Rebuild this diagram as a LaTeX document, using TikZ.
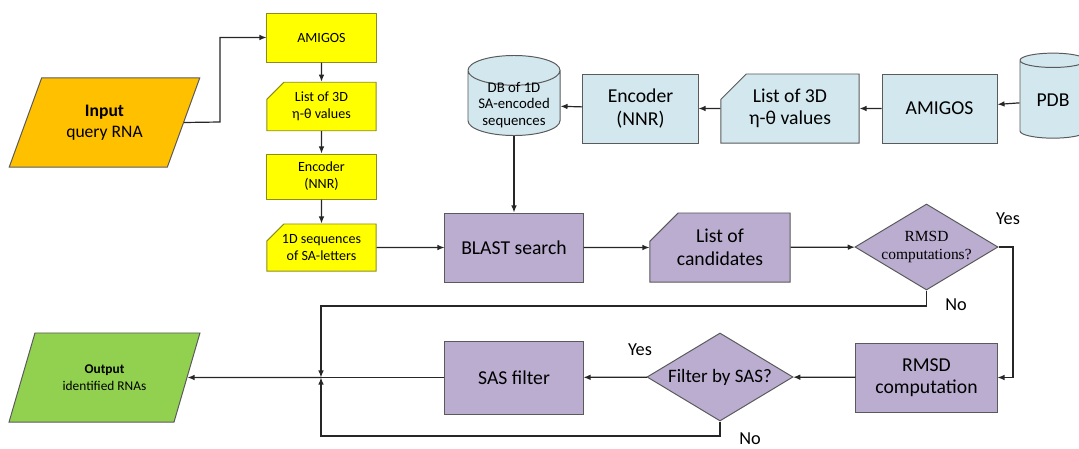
\documentclass[tikz,border=0pt]{standalone}
\usepackage{fontspec}
\setmainfont{Carlito}
\newfontfamily\serifq{Liberation Serif}
\usetikzlibrary{shapes.geometric, shapes.misc, arrows.meta}

\definecolor{yellowfill}{HTML}{FFFF00}
\definecolor{yellowline}{HTML}{8C8C1E}
\definecolor{inputfill}{HTML}{FFC000}
\definecolor{outputfill}{HTML}{92D050}
\definecolor{bluefill}{HTML}{D2E7EE}
\definecolor{purplefill}{HTML}{BAADD0}
\definecolor{boxline}{HTML}{5A5A5A}
\definecolor{flowline}{HTML}{262626}

\begin{document}
\begin{tikzpicture}
		[x=0.025cm,y=-0.025cm,
		%Styles
		box/.style={draw=boxline,line width=0.7pt,align=center,inner sep=1pt},
		yellow box/.style={box,fill=yellowfill,draw=yellowline,minimum width=2.725cm,font=\fontsize{10}{12}\selectfont},
		blue box/.style={box,fill=bluefill,font=\fontsize{14}{16}\selectfont},
		purple box/.style={box,fill=purplefill,font=\fontsize{14}{16}\selectfont},
		card/.style={chamfered rectangle,chamfered rectangle corners=north west,chamfered rectangle xsep=#1,chamfered rectangle ysep=#1},
		disk/.style={cylinder,shape border rotate=90,aspect=0.4,draw=boxline,fill=bluefill,line width=0.7pt,align=center,inner sep=1pt},
		slanted/.style={trapezium,trapezium left angle=63.7,trapezium right angle=116.3,trapezium stretches=true,draw=boxline,line width=0.7pt,align=center,minimum width=4.775cm,minimum height=2.225cm},
		question/.style={diamond,aspect=1.66,draw=boxline,fill=purplefill,line width=0.7pt,align=center,inner sep=0pt},
		flow/.style={draw=flowline,line width=0.85pt,-{Latex[length=5pt,width=4pt]}},
		plain/.style={draw=flowline,line width=0.85pt},
		answer/.style={font=\fontsize{13}{15}\selectfont}
		]
		\useasboundingbox (0,0) rectangle (1079,448);
		
		%Query side
		\node[slanted,fill=inputfill,font=\fontsize{12.5}{15}\selectfont] (input) at (104.5,122.5) {\textbf{Input}\\query RNA};
		\node[yellow box,minimum height=1.225cm] (amigosA) at (321.5,37.5) {AMIGOS};
		\node[yellow box,card=6pt,minimum height=1.125cm] (listA) at (321.5,106.5) {List of 3D\\η-θ values};
		\node[yellow box,minimum height=1.125cm] (encA) at (321.5,176.5) {Encoder\\(NNR)};
		\node[yellow box,card=6pt,minimum height=1.175cm] (seqA) at (321.5,247.5) {1D sequences\\of SA-letters};
		
		%Database side
		\node[disk,inner ysep=-3pt,minimum width=2.3cm,minimum height=2cm,font=\fontsize{10.5}{12}\selectfont] (db) at (514,105) {DB of 1D\\SA-encoded\\sequences};
		\node[blue box,minimum width=2.875cm,minimum height=1.725cm] (encB) at (640.5,108.5) {Encoder\\(NNR)};
		\node[blue box,card=9pt,minimum width=3.45cm,minimum height=1.725cm] (listB) at (790,108.5) {List of 3D\\η-θ values};
		\node[blue box,minimum width=2.875cm,minimum height=1.725cm] (amigosB) at (939.5,108.5) {AMIGOS};
		\node[disk,minimum width=1.65cm,minimum height=2.125cm,font=\fontsize{14}{16}\selectfont] (pdb) at (1053,100.5) {PDB};
		
		%Search and filtering
		\node[purple box,minimum width=3.45cm,minimum height=1.725cm] (blast) at (514,247.5) {BLAST search};
		\node[purple box,card=10pt,minimum width=3.5cm,minimum height=1.725cm] (cand) at (720,247.5) {List of\\candidates};
		\node[question,minimum width=3.575cm,minimum height=2.15cm,font=\serifq\fontsize{11}{12.5}\selectfont] (rmsdq) at (926.5,247) {RMSD\\computations?};
		\node[purple box,minimum width=3.525cm,minimum height=1.725cm] (rmsdc) at (926.5,377.5) {RMSD\\computation};
		\node[question,minimum width=3.65cm,minimum height=2.2cm,font=\fontsize{13.5}{15}\selectfont] (sasq) at (720,377) {Filter by SAS?};
		\node[purple box,minimum width=3.45cm,minimum height=1.825cm] (sasf) at (514,377.5) {SAS filter};
		\node[slanted,fill=outputfill,font=\fontsize{9.5}{12}\selectfont] (output) at (104.5,377.5) {\textbf{Output}\\identified RNAs};
		
		\node[answer] (yes1) at (1008,219) {Yes};
		\node[answer] (no1) at (956,305) {No};
		\node[answer] (yes2) at (640,350) {Yes};
		\node[answer] (no2) at (750,439) {No};
		
		\coordinate (bend) at (220,122);
		\coordinate (yesbend) at (1013,247);
		\coordinate (mtop) at (321,306);
		\coordinate (merge) at (321,377.5);
		\coordinate (mbot) at (321,436);
		
		%Connectors
		\draw[flow] (input.east) -- (bend) |- (amigosA.west);
		\draw[flow] (amigosA) -- (listA);
		\draw[flow] (listA) -- (encA);
		\draw[flow] (encA) -- (seqA);
		\draw[flow] (seqA) -- (blast);
		
		\draw[flow] (pdb) -- (amigosB);
		\draw[flow] (amigosB) -- (listB);
		\draw[flow] (listB) -- (encB);
		\draw[flow] (encB) -- (db);
		\draw[flow] (db) -- (blast);
		
		\draw[flow] (blast) -- (cand);
		\draw[flow] (cand) -- (rmsdq);
		\draw[flow] (rmsdq.east) -- (yesbend) |- (rmsdc.east);
		\draw[flow] (rmsdq.south) |- (mtop) -- (merge);
		\draw[flow] (rmsdc) -- (sasq);
		\draw[flow] (sasq) -- (sasf);
		\draw[flow] (sasq.south) |- (mbot) -- (merge);
		\draw[plain] (sasf) -- (merge);
		\draw[flow] (merge) -- (output.east);
	\end{tikzpicture}
\end{document}
